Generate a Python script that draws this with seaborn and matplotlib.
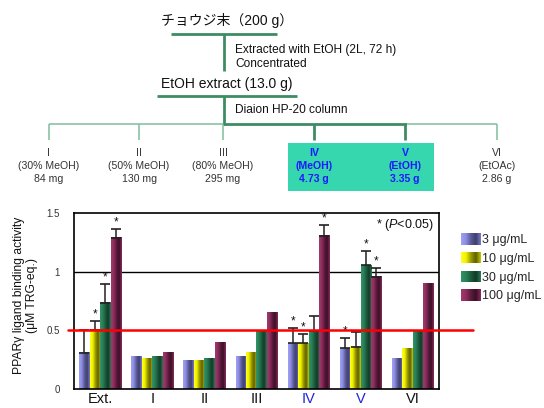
import numpy as np
import pandas as pd
import matplotlib
matplotlib.use("Agg")
import matplotlib.pyplot as plt
from matplotlib.colors import LinearSegmentedColormap
from matplotlib.patches import Patch, Rectangle
from matplotlib.legend_handler import HandlerBase
import seaborn as sns

# ---------------- data ----------------
categories = ["Ext.", "I", "II", "III", "IV", "V", "VI"]
doses = ["3 μg/mL", "10 μg/mL", "30 μg/mL", "100 μg/mL"]
vals_3 = [0.307, 0.281, 0.239, 0.281, 0.392, 0.349, 0.264]
vals_10 = [0.500, 0.256, 0.247, 0.307, 0.392, 0.358, 0.349]
vals_30 = [0.733, 0.273, 0.256, 0.497, 0.497, 1.054, 0.486]
vals_100 = [1.287, 0.307, 0.400, 0.656, 1.304, 0.955, 0.895]
err_3 = [0.200, 0, 0, 0, 0.125, 0.088, 0]
err_10 = [0.077, 0, 0, 0, 0.077, 0.125, 0]
err_30 = [0.165, 0, 0, 0, 0.123, 0.125, 0]
err_100 = [0.079, 0, 0, 0, 0.091, 0.079, 0]
stars_3 = [0, 0, 0, 0, 1, 1, 0]
stars_10 = [1, 0, 0, 0, 1, 0, 0]
stars_30 = [1, 0, 0, 0, 0, 1, 0]
stars_100 = [1, 0, 0, 0, 1, 1, 0]
cat_colors = ["#111111", "#111111", "#111111", "#111111", "#2222dd", "#2222dd", "#111111"]

fractions = ["I", "II", "III", "IV", "V", "VI"]
fraction_solvent = ["(30% MeOH)", "(50% MeOH)", "(80% MeOH)", "(MeOH)", "(EtOH)", "(EtOAc)"]
fraction_yield = ["84 mg", "130 mg", "295 mg", "4.73 g", "3.35 g", "2.86 g"]
fraction_highlight = [False, False, False, True, True, False]

vals = [vals_3, vals_10, vals_30, vals_100]
errs = [err_3, err_10, err_30, err_100]
stars = [stars_3, stars_10, stars_30, stars_100]

df = pd.DataFrame({
    "category": np.repeat([categories], 4, axis=0).ravel(),
    "dose": np.repeat(doses, len(categories)),
    "value": np.concatenate(vals),
})

# ---------------- style ----------------
sns.set_style("white")
plt.rcParams["font.family"] = ["Liberation Sans", "Noto Sans CJK JP"]
plt.rcParams["mathtext.fontset"] = "custom"
plt.rcParams["mathtext.it"] = "Liberation Sans:italic"
plt.rcParams["mathtext.rm"] = "Liberation Sans"

grad_stops = [
    ["#a0a0f4", "#8c8ce0", "#5a5a96", "#3e3e6e", "#7a7ac4"],
    ["#ffff20", "#f0f000", "#9a9a00", "#5e5e00", "#c8c800"],
    ["#2f9466", "#2a8058", "#1b5a3c", "#123a28", "#2a7a54"],
    ["#a03a6c", "#8e2e5e", "#5c1a3c", "#3a0f26", "#8a2c5c"],
]
cmaps = [LinearSegmentedColormap.from_list(f"g{i}", s) for i, s in enumerate(grad_stops)]
mid_colors = ["#7c7cc8", "#e0e000", "#23704c", "#7a2650"]
grad = np.linspace(0, 1, 64)[None, :]


class GradientHandler(HandlerBase):
    def __init__(self, cmap, n=20):
        super().__init__()
        self.cmap = cmap
        self.n = n

    def create_artists(self, legend, orig_handle, xdescent, ydescent, width, height, fontsize, trans):
        arts = []
        sw = width / self.n
        for k in range(self.n):
            r = Rectangle((-xdescent + k * sw, -ydescent), sw * 1.05, height,
                          facecolor=self.cmap((k + 0.5) / self.n), edgecolor="none",
                          transform=trans)
            arts.append(r)
        return arts


fig = plt.figure(figsize=(5.44, 4.08), dpi=100)
W, H = 544, 408

# ---------------- flow chart (overlay) ----------------
fc = fig.add_axes([0, 0, 1, 1], zorder=0)
fc.set_xlim(0, W)
fc.set_ylim(H, 0)
fc.axis("off")
dark = "#3d8c64"
light = "#7fbf9c"
lw_dark = 2.0
lw_light = 1.1

fc.text(227, 21, "チョウジ末（200 g）", ha="center", va="center", fontsize=10, color="#111111")
fc.plot([171, 277], [34, 34], color=dark, lw=lw_dark, solid_capstyle="butt")
fc.plot([224, 224], [34, 71], color=dark, lw=lw_dark, solid_capstyle="butt")
fc.text(235, 50.5, "Extracted with EtOH (2L, 72 h)", ha="left", va="center", fontsize=8.6, color="#111111")
fc.text(235, 64, "Concentrated", ha="left", va="center", fontsize=8.6, color="#111111")
fc.text(227, 84, "EtOH extract (13.0 g)", ha="center", va="center", fontsize=10, color="#111111")
fc.plot([157, 297], [96, 96], color=dark, lw=lw_dark, solid_capstyle="butt")
fc.plot([224, 224], [96, 125], color=dark, lw=lw_dark, solid_capstyle="butt")
fc.text(235, 110, "Diaion HP-20 column", ha="left", va="center", fontsize=8.6, color="#111111")

frac_x = [49, 139, 223, 314, 405, 497]
fc.plot([49, 224], [124, 124], color=light, lw=lw_light, solid_capstyle="butt")
fc.plot([405, 497], [124, 124], color=light, lw=lw_light, solid_capstyle="butt")
fc.plot([224, 405], [124, 124], color=dark, lw=lw_dark, solid_capstyle="projecting")
fc.add_patch(Rectangle((288, 143), 146, 48, facecolor="#36d6ae", edgecolor="none"))
for fx, name, solv, yld, hl in zip(frac_x, fractions, fraction_solvent, fraction_yield, fraction_highlight):
    if hl:
        fc.plot([fx, fx], [124, 140], color=dark, lw=lw_dark, solid_capstyle="butt")
        kw = dict(color="#1a1aff", fontweight="bold")
    else:
        fc.plot([fx, fx], [124, 140], color=light, lw=lw_light, solid_capstyle="butt")
        kw = dict(color="#333333")
    fc.text(fx, 152.5, name, ha="center", va="center", fontsize=7.6, **kw)
    fc.text(fx, 166, solv, ha="center", va="center", fontsize=7.6, **kw)
    fc.text(fx, 179.5, yld, ha="center", va="center", fontsize=7.6, **kw)

# ---------------- bar chart ----------------
ax = fig.add_axes([74 / W, 19 / H, 365 / W, 176 / H], zorder=1)
sns.barplot(data=df, x="category", y="value", hue="dose", order=categories,
            hue_order=doses, palette=mid_colors, errorbar=None, width=0.8,
            gap=0, linewidth=0, legend=False, ax=ax)

bar_containers = list(ax.containers)
for i, cont in enumerate(bar_containers):
    for j, p in enumerate(cont.patches):
        x0, y0, w, h = p.get_x(), p.get_y(), p.get_width(), p.get_height()
        ax.imshow(grad, extent=[x0, x0 + w, y0, y0 + h], aspect="auto",
                  cmap=cmaps[i], zorder=2, interpolation="bilinear")
        xc = x0 + w / 2
        top = y0 + h
        e = errs[i][j]
        if e > 0:
            ax.errorbar([xc], [top], yerr=[[0], [e]], fmt="none", ecolor="#222222",
                        elinewidth=1.1, capsize=3.6, capthick=1.2, zorder=3)
        if stars[i][j]:
            ax.annotate("*", (xc, top + e), xytext=(0, 0.5), textcoords="offset points",
                        ha="center", va="bottom", fontsize=8.5, color="#111111", zorder=4)

ax.set_xlim(-0.5, 6.5)
ax.set_ylim(0, 1.5)
ax.axhline(1.0, color="black", lw=1.0, zorder=1)
ax.axhline(0.5, xmin=-0.017, xmax=1.092, color="#ff0000", lw=1.8, zorder=5, clip_on=False)

ax.set_yticks([0, 0.5, 1, 1.5])
ax.set_yticklabels(["0", "0.5", "1", "1.5"])
ax.tick_params(axis="y", length=0, pad=10, labelsize=7, labelcolor="#333333")
ax.tick_params(axis="x", length=0, pad=2.5, labelsize=10.5)
ax.set_xticks(range(len(categories)))
ax.set_xticklabels(categories)
for lbl, c in zip(ax.get_xticklabels(), cat_colors):
    lbl.set_color(c)
ax.set_xlabel("")
ax.set_ylabel("PPARγ ligand binding activity\n(μM TRG-eq.)", fontsize=8.7,
              color="#111111", linespacing=1.1)
ax.yaxis.set_label_coords(-0.098, 0.53)
for s in ax.spines.values():
    s.set_visible(True)
    s.set_color("black")
    s.set_linewidth(1.2)

ax.text(0.985, 0.93, r"* ($\mathit{P}$<0.05)", transform=ax.transAxes,
        ha="right", va="center", fontsize=9, color="#111111")

handles = [Patch(facecolor=c, edgecolor="none") for c in mid_colors]
leg = fig.legend(handles, doses, loc="upper left", bbox_to_anchor=(461 / W, 1 - 233 / H),
                 frameon=False, borderpad=0, borderaxespad=0, handlelength=1.6,
                 handleheight=1.05, handletextpad=0.1, labelspacing=0.46, fontsize=9,
                 handler_map={h: GradientHandler(cm) for h, cm in zip(handles, cmaps)})

fig.savefig("out.png", dpi=100)
